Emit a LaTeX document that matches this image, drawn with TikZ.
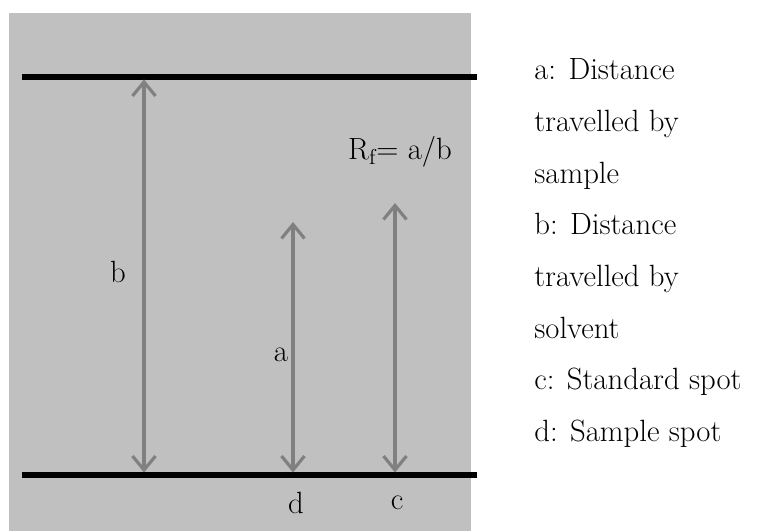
\documentclass[tikz,border=0pt]{standalone}
\usepackage{xcolor}
\usepackage{tikz}
\usetikzlibrary{arrows.meta,positioning}
\definecolor{plateGray}{HTML}{C0C0C0}
\definecolor{runGray}{HTML}{808080}

\begin{document}
\begin{tikzpicture}[
        font=\fontsize{17.5}{29.4}\selectfont,
        plate/.style={fill=plateGray, draw=none},
        front/.style={line width=2.9pt, draw=black},
        arr/.style={{Straight Barb[length=2.8mm,width=4.6mm]}-{Straight Barb[length=2.8mm,width=4.6mm]}, line width=1.8pt, draw=runGray},
        lbl/.style={inner sep=0pt}
    ]
        \useasboundingbox (0,0) rectangle (15.38,10.62);

        % --- TLC plate with origin and solvent front ---
        \fill[plate] (0.18,0) rectangle (9.42,10.36);
        \coordinate (frontL) at (0.44,9.08);
        \coordinate (frontR) at (9.54,9.08);
        \coordinate (baseL) at (0.44,1.12);
        \coordinate (baseR) at (9.54,1.12);
        \draw[front] (frontL) -- (frontR);
        \draw[front] (baseL) -- (baseR);

        % --- distances ---
        \coordinate (bTop) at (2.88,9.03);
        \coordinate (bBot) at (2.88,1.17);
        \coordinate (aTop) at (5.86,6.18);
        \coordinate (aBot) at (5.86,1.17);
        \coordinate (cTop) at (7.90,6.56);
        \coordinate (cBot) at (7.90,1.17);
        \draw[arr] (bBot) -- (bTop);
        \draw[arr] (aBot) -- (aTop);
        \draw[arr] (cBot) -- (cTop);

        \node[lbl] (bLab) at (2.36,5.18) {b};
        \node[lbl] (aLab) at (5.62,3.52) {a};
        \node[lbl] (dLab) at (5.92,0.56) {d};
        \node[lbl] (cLab) at (7.94,0.56) {c};
        \node[lbl] (rf) at (8.0,7.58) {R\textsubscript{f}= a/b};

        % --- legend ---
        \node[lbl, anchor=north west, align=left] (legend) at (10.68,9.45)
            {a: Distance\\travelled by\\sample\\b: Distance\\travelled by\\solvent\\c: Standard spot\\d: Sample spot};
    \end{tikzpicture}
\end{document}
